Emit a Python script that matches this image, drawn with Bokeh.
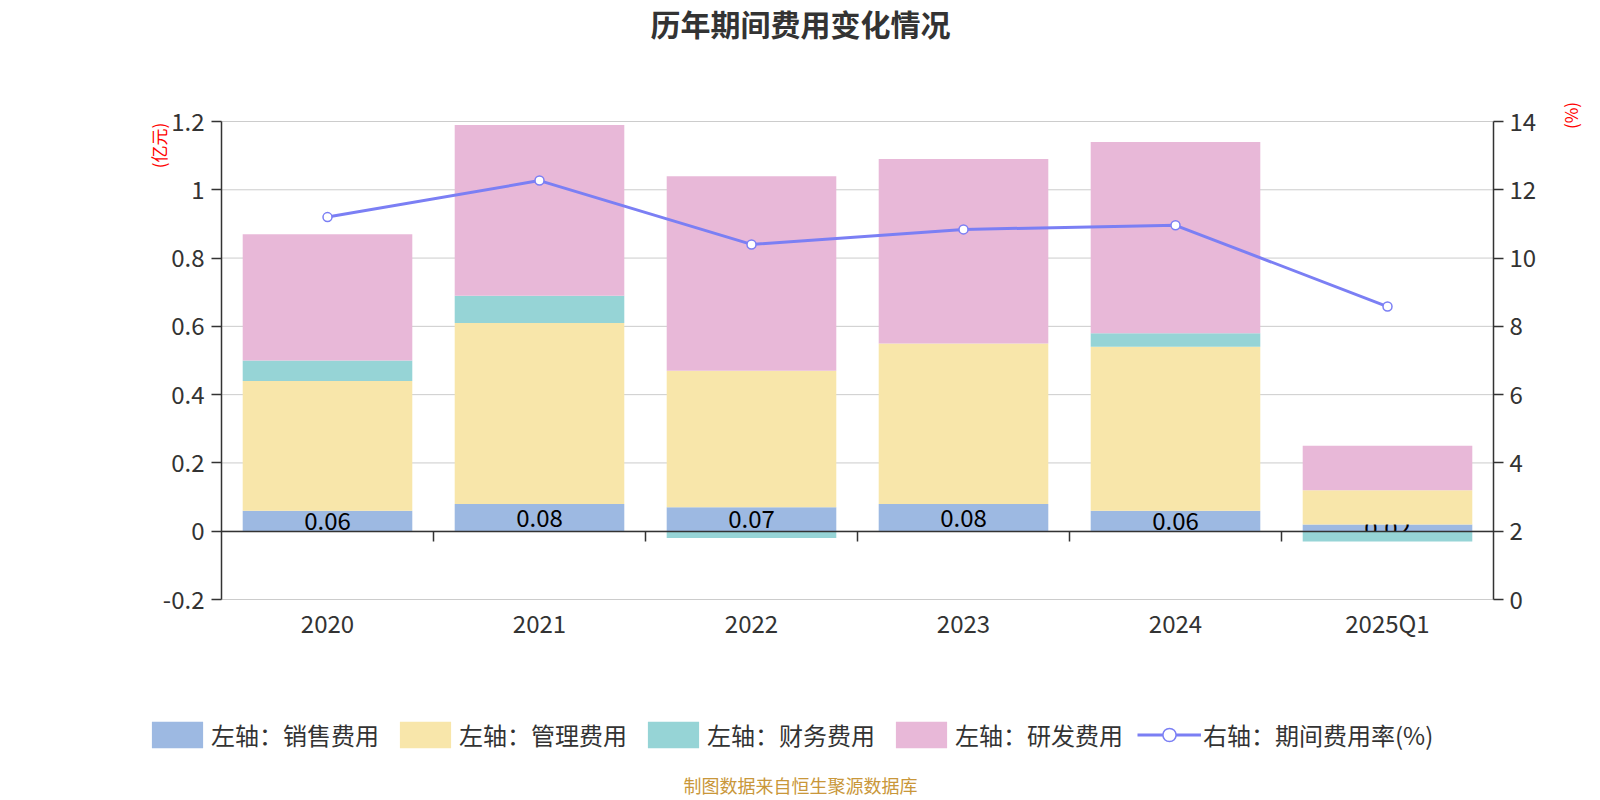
from bokeh.plotting import figure
from bokeh.models import (Range1d, LinearAxis, FixedTicker, CustomJSTickFormatter,
                          Label, Legend, LegendItem, ColumnDataSource)
from bokeh.embed import file_html
from bokeh.resources import INLINE
from bokeh.core.properties import value

# ---------------- data ----------------
categories = ["2020", "2021", "2022", "2023", "2024", "2025Q1"]
sales = [0.06, 0.08, 0.07, 0.08, 0.06, 0.02]        # 销售费用 (亿元)
mgmt = [0.38, 0.53, 0.40, 0.47, 0.48, 0.10]         # 管理费用
finance = [0.06, 0.08, -0.02, 0.00, 0.04, -0.03]    # 财务费用
rnd = [0.37, 0.50, 0.57, 0.54, 0.56, 0.13]          # 研发费用
rate = [11.2, 12.27, 10.40, 10.84, 10.96, 8.58]     # 期间费用率 (%)
left_ticks = [-0.2, 0, 0.2, 0.4, 0.6, 0.8, 1.0, 1.2]
right_ticks = [0, 2, 4, 6, 8, 10, 12, 14]
series_names = ["左轴：销售费用", "左轴：管理费用", "左轴：财务费用", "左轴：研发费用"]
line_name = "右轴：期间费用率(%)"
title_text = "历年期间费用变化情况"
footer_text = "制图数据来自恒生聚源数据库"
left_unit = "(亿元)"
right_unit = "(%)"

# ---------------- layout / style ----------------
FONT = "Noto Sans CJK SC"
colors = ["#9db9e2", "#f8e6aa", "#96d4d6", "#e8b8d8"]
line_color = "#7b7ff4"
W, H = 1600, 800
PX_L, PX_R, PX_T, PX_B = 221, 1493, 121, 599      # plotting area in canvas pixels
n = len(categories)
xpos = [i + 0.5 for i in range(n)]                 # category centres on a numeric axis
y_lo, y_hi = left_ticks[0], left_ticks[-1]
r_lo, r_hi = right_ticks[0], right_ticks[-1]
ux = (PX_R - PX_L) / n
uy = (PX_B - PX_T) / (y_hi - y_lo)
ur = (PX_B - PX_T) / (r_hi - r_lo)

p = figure(x_range=Range1d(-PX_L / ux, (W - PX_L) / ux),
           y_range=Range1d(y_lo - (H - PX_B) / uy, y_hi + PX_T / uy),
           width=W, height=H, output_backend="svg", toolbar_location=None, title=None,
           x_axis_type=None, y_axis_type=None,
           min_border_left=0, min_border_right=0, min_border_top=0, min_border_bottom=0)
p.outline_line_color = None
p.background_fill_color = "white"
p.border_fill_color = "white"
p.grid.visible = False
p.extra_y_ranges = {"pct": Range1d(r_lo - (H - PX_B) / ur, r_hi + PX_T / ur)}

# horizontal grid lines at the left-axis ticks, spanning the plotting area only
p.segment(x0=[0] * len(left_ticks), x1=[n] * len(left_ticks), y0=left_ticks, y1=left_ticks,
          line_color="#cccccc", line_width=1)

def style_axis(ax, standoff):
    ax.axis_line_color = "#333333"
    ax.axis_line_width = 1.5
    ax.major_tick_line_color = "#333333"
    ax.major_tick_line_width = 1.5
    ax.major_tick_out = 10
    ax.major_tick_in = 0
    ax.minor_tick_line_color = None
    ax.major_label_text_font = FONT
    ax.major_label_text_font_size = "24px"
    ax.major_label_text_color = "#333333"
    ax.major_label_standoff = standoff

# left axis (亿元)
ya = LinearAxis(ticker=FixedTicker(ticks=left_ticks), fixed_location=0, bounds=(y_lo, y_hi),
                formatter=CustomJSTickFormatter(code="return String(Math.round(tick*10)/10);"))
style_axis(ya, 7)
p.add_layout(ya, "left")

# right axis (%)
ra = LinearAxis(y_range_name="pct", ticker=FixedTicker(ticks=right_ticks), fixed_location=n,
                bounds=(r_lo, r_hi))
style_axis(ra, 6)
p.add_layout(ra, "right")

# category labels along the bottom of the plotting area
xa = LinearAxis(ticker=FixedTicker(ticks=xpos), fixed_location=y_lo,
                major_label_overrides={x: c for x, c in zip(xpos, categories)})
xa.axis_line_color = None
xa.major_tick_line_color = None
xa.minor_tick_line_color = None
xa.major_tick_out = 0
xa.major_tick_in = 0
xa.major_label_text_font = FONT
xa.major_label_text_font_size = "24px"
xa.major_label_text_color = "#333333"
xa.major_label_standoff = 5
p.add_layout(xa, "below")

# ---------------- stacked bars ----------------
series = [sales, mgmt, finance, rnd]
pos_base = [0.0] * n
neg_base = [0.0] * n
bar_renderers = []
for i, vals in enumerate(series):
    bottoms, tops = [], []
    for j, v in enumerate(vals):
        if v >= 0:
            bottoms.append(pos_base[j]); tops.append(pos_base[j] + v); pos_base[j] += v
        else:
            bottoms.append(neg_base[j] + v); tops.append(neg_base[j]); neg_base[j] += v
    src = ColumnDataSource(dict(x=xpos, bottom=bottoms, top=tops))
    r = p.vbar(x="x", bottom="bottom", top="top", width=0.8, source=src,
               fill_color=colors[i], line_color=None)
    bar_renderers.append(r)
    if i == 0:
        lab_src = ColumnDataSource(dict(x=xpos, y=[(b + t) / 2 for b, t in zip(bottoms, tops)],
                                        t=["%.2f" % v for v in vals]))
        p.text(x="x", y="y", text="t", source=lab_src, text_align="center",
               text_baseline="middle", text_font=value(FONT), text_font_size="24px",
               text_color="#000000")

# zero line as an axis with ticks on the category boundaries
za = LinearAxis(ticker=FixedTicker(ticks=list(range(1, n))), fixed_location=0, bounds=(0, n),
                formatter=CustomJSTickFormatter(code="return '';"))
za.axis_line_color = "#333333"
za.axis_line_width = 1.5
za.major_tick_line_color = "#333333"
za.major_tick_line_width = 1.5
za.major_tick_out = 10
za.major_tick_in = 0
za.minor_tick_line_color = None
p.add_layout(za, "below")

# ---------------- rate line ----------------
lsrc = ColumnDataSource(dict(x=xpos, y=rate))
r_line = p.line(x="x", y="y", source=lsrc, y_range_name="pct", line_color=line_color, line_width=3)
r_pts = p.scatter(x="x", y="y", source=lsrc, y_range_name="pct", marker="circle", size=9,
                  fill_color="white", line_color=line_color, line_width=1.5)

# ---------------- legend ----------------
items = [LegendItem(label=nm, renderers=[r]) for nm, r in zip(series_names, bar_renderers)]
items.append(LegendItem(label=line_name, renderers=[r_line, r_pts]))
legend = Legend(items=items, orientation="horizontal", location=(145, H - 751.5),
                glyph_width=64, glyph_height=33, label_standoff=2, spacing=14,
                padding=0, margin=0, border_line_color=None, background_fill_alpha=0,
                label_text_font=FONT, label_text_font_size="24px", label_text_color="#333333")
p.add_layout(legend, "center")

# ---------------- texts (screen px; frame == canvas) ----------------
def lab(text, x, y, size, color, bold=False, angle=0.0):
    return Label(x=x, y=H - y, x_units="screen", y_units="screen", text=text, angle=angle,
                 text_align="center", text_baseline="middle", text_font=FONT,
                 text_font_size=size, text_font_style="bold" if bold else "normal",
                 text_color=color)

p.add_layout(lab(title_text, 800, 22.5, "30px", "#333333", bold=True))
p.add_layout(lab(left_unit, 158, 145, "17px", "#ff0000", angle=1.5708))
p.add_layout(lab(right_unit, 1570, 115, "17px", "#ff0000", angle=1.5708))
p.add_layout(lab(footer_text, 800, 784, "18px", "#c9973a"))

open("out.html", "w").write(file_html(p, INLINE))
